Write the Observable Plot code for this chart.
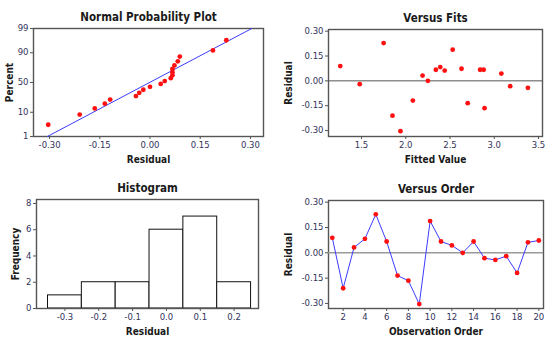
<!DOCTYPE html>
<html>
<head>
<meta charset="utf-8">
<script src="https://cdn.jsdelivr.net/npm/d3@7"></script>
<script src="https://cdn.jsdelivr.net/npm/@observablehq/plot@0.6"></script>
<style>
  body { margin: 0; background: #fff; }
  #wrap { position: relative; width: 550px; height: 341px; background: #fff; }
  .panel { position: absolute; }
  .panel svg { display: block; overflow: visible; }
  .panel g[aria-label$="tick label"] text { fill: #33335a; font-family: 'DejaVu Sans', sans-serif; font-size: 8.5px; }
  .panel g[aria-label$="-axis label"] text { fill: #1a1a1a; font-weight: bold; font-size: 10px; }
</style>
</head>
<body>
<div id="wrap"></div>
<script>
// ---- data ----
const observation = [1,2,3,4,5,6,7,8,9,10,11,12,13,14,15,16,17,18,19,20];
const residuals = [0.089,-0.210,0.032,0.083,0.228,0.067,-0.135,-0.165,-0.304,0.188,
                   0.067,0.044,0.000,0.067,-0.032,-0.042,-0.020,-0.119,0.062,0.073];
const fittedValues = [1.26,1.85,2.19,2.39,1.75,2.34,2.70,2.89,1.94,2.53,
                      2.84,3.08,2.25,2.88,3.18,3.38,1.48,2.08,2.44,2.63];
const titles = ["Normal Probability Plot","Versus Fits","Histogram","Versus Order"];
const percentTicks = [1,10,50,90,99];
const residualTicks = [-0.30,-0.15,0.00,0.15,0.30];
const fitTicks = [1.5,2.0,2.5,3.0,3.5];
const histTicks = [-0.3,-0.2,-0.1,0.0,0.1,0.2];
const histEdges = [-0.35,-0.25,-0.15,-0.05,0.05,0.15,0.25];
const freqTicks = [0,2,4,6,8];
const orderTicks = [2,4,6,8,10,12,14,16,18,20];

// inverse normal CDF (Acklam)
function probit(p) {
  const a=[-3.969683028665376e+01,2.209460984245205e+02,-2.759285104469687e+02,1.383577518672690e+02,-3.066479806614716e+01,2.506628277459239e+00];
  const b=[-5.447609879822406e+01,1.615858368580409e+02,-1.556989798598866e+02,6.680131188771972e+01,-1.328068155288572e+01];
  const c=[-7.784894002430293e-03,-3.223964580411365e-01,-2.400758277161838e+00,-2.549732539343734e+00,4.374664141464968e+00,2.938163982698783e+00];
  const d=[7.784695709041462e-03,3.224671290700398e-01,2.445134137142996e+00,3.754408661907416e+00];
  const pl=0.02425;
  let q,r;
  if (p<pl){ q=Math.sqrt(-2*Math.log(p)); return (((((c[0]*q+c[1])*q+c[2])*q+c[3])*q+c[4])*q+c[5])/((((d[0]*q+d[1])*q+d[2])*q+d[3])*q+1); }
  if (p<=1-pl){ q=p-0.5; r=q*q; return (((((a[0]*r+a[1])*r+a[2])*r+a[3])*r+a[4])*r+a[5])*q/(((((b[0]*r+b[1])*r+b[2])*r+b[3])*r+b[4])*r+1); }
  q=Math.sqrt(-2*Math.log(1-p)); return -(((((c[0]*q+c[1])*q+c[2])*q+c[3])*q+c[4])*q+c[5])/((((d[0]*q+d[1])*q+d[2])*q+d[3])*q+1);
}

const n = residuals.length;
const rows = observation.map((o,i)=>({o, r: residuals[i], fit: fittedValues[i]}));
const sorted = residuals.slice().sort((a,b)=>a-b);
const probData = sorted.map((r,i)=>({r, z: probit((i+1-0.3)/(n+0.4))}));
const mu = d3.mean(residuals), sd = d3.deviation(residuals);
const zHi = probit(percentTicks[percentTicks.length-1]/100), zLo = probit(percentTicks[0]/100);
const fitLine = [zLo, zHi].map(z=>({z, x: mu + sd*z}));
const bins = d3.bin().domain([histEdges[0], histEdges[histEdges.length-1]])
  .thresholds(histEdges.slice(1,-1))(residuals);

const fmt2 = d => d.toFixed(2), fmt1 = d => d.toFixed(1);
const base = {
  style: {fontFamily: "'DejaVu Sans Condensed','DejaVu Sans',sans-serif", fontSize: "9px", color: "#1a1a1a", background: "transparent", overflow: "visible"}
};
const FRAME = "#555555", DOT = "#ff1010", BLUE = "#3c3cff";
function titleMark(t) {
  return Plot.text([t], {text: d=>d, frameAnchor: "top", dy: -16, fontWeight: "bold", fontSize: 11.5, fill: "#1a1a1a"});
}
function axX(opts, label, off) {
  return Plot.axisX({...opts, tickSize: 3, tickPadding: 2, stroke: "#555", label, labelAnchor: "center", labelArrow: "none", labelOffset: off});
}
function axY(opts, label, off) {
  return Plot.axisY({...opts, tickSize: 3, tickPadding: 2, stroke: "#555", label, labelAnchor: "center", labelArrow: "none", labelOffset: off});
}

const p1 = Plot.plot({...base, width: 275, height: 170, marginLeft: 33, marginRight: 12, marginTop: 28, marginBottom: 34,
  x: {domain: [-0.348, 0.339]}, y: {domain: [zLo, zHi]},
  marks: [
    Plot.frame({stroke: FRAME, strokeWidth: 1.4}),
    Plot.line(fitLine, {x: "x", y: "z", stroke: BLUE, strokeWidth: 1}),
    Plot.dot(probData, {x: "r", y: "z", r: 2.4, fill: DOT}),
    axX({ticks: residualTicks, tickFormat: fmt2}, "Residual", 26),
    axY({ticks: percentTicks.map(p=>probit(p/100)), tickFormat: (d,i)=>percentTicks[i]}, "Percent", 28),
    titleMark(titles[0])
  ]});

const p2 = Plot.plot({...base, width: 275, height: 170, marginLeft: 53, marginRight: 8, marginTop: 29, marginBottom: 34,
  x: {domain: [1.127, 3.545]}, y: {domain: [-0.336, 0.31]},
  marks: [
    Plot.frame({stroke: FRAME, strokeWidth: 1.4}),
    Plot.ruleY([0], {stroke: "#555", strokeWidth: 1}),
    Plot.dot(rows, {x: "fit", y: "r", r: 2.4, fill: DOT}),
    axX({ticks: fitTicks, tickFormat: fmt1}, "Fitted Value", 26),
    axY({ticks: residualTicks, tickFormat: fmt2}, "Residual", 44),
    titleMark(titles[1])
  ]});

const p3 = Plot.plot({...base, width: 275, height: 171, marginLeft: 36, marginRight: 17, marginTop: 29, marginBottom: 33,
  x: {domain: [-0.384, 0.272]}, y: {domain: [0, 8.3]},
  marks: [
    Plot.rectY(bins, {x1: "x0", x2: "x1", y: d=>d.length, fill: "white", stroke: "#111", strokeWidth: 1}),
    Plot.frame({stroke: FRAME, strokeWidth: 1.4}),
    axX({ticks: histTicks, tickFormat: fmt1}, "Residual", 26),
    axY({ticks: freqTicks, tickFormat: d=>d}, "Frequency", 25),
    titleMark(titles[2])
  ]});

const p4 = Plot.plot({...base, width: 275, height: 171, marginLeft: 53, marginRight: 7, marginTop: 30, marginBottom: 33,
  x: {domain: [0.65, 20.43]}, y: {domain: [-0.33, 0.31]},
  marks: [
    Plot.frame({stroke: FRAME, strokeWidth: 1.4}),
    Plot.ruleY([0], {stroke: "#9a9a9a", strokeWidth: 1.6}),
    Plot.line(rows, {x: "o", y: "r", stroke: BLUE, strokeWidth: 1}),
    Plot.dot(rows, {x: "o", y: "r", r: 2.4, fill: DOT}),
    axX({ticks: orderTicks, tickFormat: d=>d}, "Observation Order", 26),
    axY({ticks: residualTicks, tickFormat: fmt2}, "Residual", 44),
    titleMark(titles[3])
  ]});

const wrap = document.getElementById("wrap");
[[p1,0,0],[p2,275,0],[p3,0,170],[p4,275,170]].forEach(([p,x,y])=>{
  const d = document.createElement("div");
  d.className = "panel"; d.style.left = x+"px"; d.style.top = y+"px";
  d.appendChild(p); wrap.appendChild(d);
});
</script>
</body>
</html>
